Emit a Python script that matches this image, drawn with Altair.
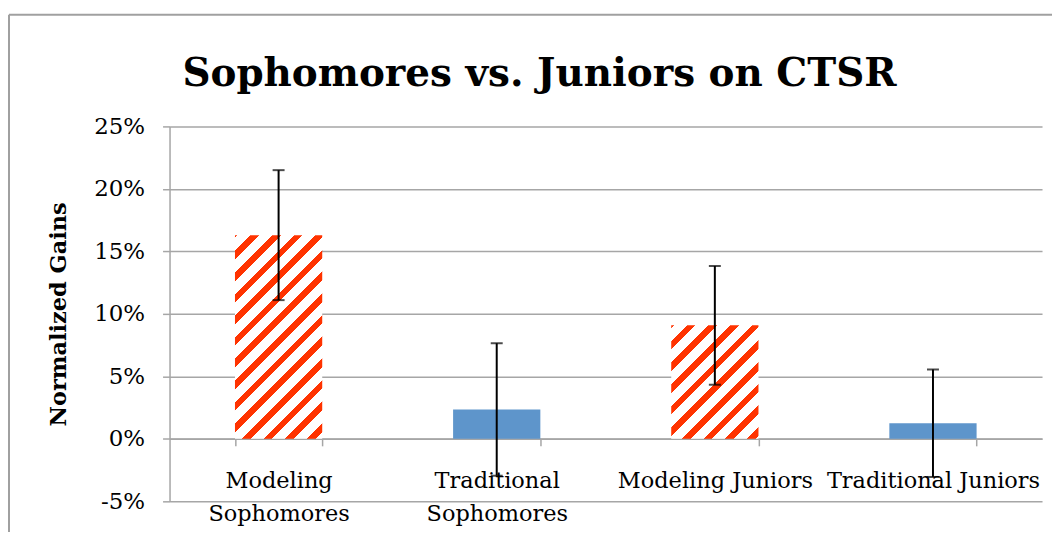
import altair as alt
import pandas as pd

# ---- data ----
categories = ["Modeling Sophomores", "Traditional Sophomores", "Modeling Juniors", "Traditional Juniors"]
gains = [16.3, 2.35, 9.08, 1.25]          # normalized gains, %
errors = [5.2, 5.3, 4.75, 4.3]            # +/- error, %
patterned = [True, False, True, False]
y_ticks = [-5, 0, 5, 10, 15, 20, 25]
chart_title = ["Sophomores vs. Juniors on CTSR"]

df = pd.DataFrame({"cat": categories, "gain": gains, "err": errors, "pattern": patterned})
df["lo"] = df["gain"] - df["err"]
df["hi"] = df["gain"] + df["err"]

# ---- layout / style ----
W, H = 875, 376
YMIN, YMAX = -5, 25
PX = H / (YMAX - YMIN)
STEP = W / 4.0
BW = STEP * 0.4
RED = "#FF3300"
BLUE = "#5E95CB"
GRID = "#A6A6A6"
FONT = "DejaVu Serif"


def stripe_gradient(h, period=21.7, frac=0.4, phase=6.0):
    w = BW
    L = w + h
    k = (w + h) / (w * w + h * h)
    stops = [alt.GradientStop(color="white", offset=0)]
    start = -phase
    while start < L:
        r0, r1 = start, start + frac * period
        a = max(r0, 0) / L
        b = min(r1, L) / L
        if b > 0 and a < 1:
            stops += [alt.GradientStop(color="white", offset=a),
                      alt.GradientStop(color=RED, offset=a),
                      alt.GradientStop(color=RED, offset=b),
                      alt.GradientStop(color="white", offset=b)]
        start += period
    stops.append(alt.GradientStop(color="white", offset=1))
    return alt.LinearGradient(gradient="linear", stops=stops,
                              x1=0, y1=0, x2=w * k, y2=h * k)


x_axis = alt.Axis(
    title=None, grid=False, offset=-(0 - YMIN) * PX,
    domainColor=GRID, domainWidth=1.5, tickColor=GRID, tickWidth=1.5, tickSize=7,
    tickBand="extent", labelAngle=0, labelFont=FONT, labelFontSize=22.5, labelColor="black",
    labelPadding=24, labelLineHeight=33, labelBaseline="top", labelLimit=0,
    labelExpr="datum.label == 'Modeling Sophomores' ? ['Modeling', 'Sophomores'] : "
              "datum.label == 'Traditional Sophomores' ? ['Traditional', 'Sophomores'] : datum.label",
)
y_axis = alt.Axis(
    values=y_ticks, labelExpr="datum.value + '%'", title="Normalized Gains",
    grid=True, gridColor=GRID, gridWidth=1.5,
    domainColor=GRID, domainWidth=1.5, tickColor=GRID, tickWidth=1.5, tickSize=7,
    labelFont=FONT, labelFontSize=23, labelColor="black", labelPadding=18,
    titleFont=FONT, titleFontSize=22.5, titleFontWeight="bold", titleColor="black",
    titleX=-111, titleY=H / 2, titleAngle=-90, titleAlign="center", titleBaseline="middle",
)
x_scale = alt.Scale(domain=categories, paddingInner=0.6, paddingOuter=0.3)
y_scale = alt.Scale(domain=[YMIN, YMAX], nice=False, zero=False)


def X():
    return alt.X("cat:N", scale=x_scale, axis=x_axis)


def Y(field):
    return alt.Y(field, scale=y_scale, axis=y_axis)


base = alt.Chart(df)

blue_bars = base.transform_filter(alt.datum.pattern == False).mark_bar(color=BLUE).encode(
    x=X(), y=Y("gain:Q"), y2=alt.datum(0),
)

layers = [blue_bars]
for c, g, p in zip(categories, gains, patterned):
    if p:
        layers.append(
            base.transform_filter(alt.datum.cat == c).mark_bar(color=stripe_gradient(g * PX)).encode(
                x=X(), y=Y("gain:Q"), y2=alt.datum(0),
            )
        )

err_rule = base.mark_rule(color="black", strokeWidth=2).encode(
    x=X(), y=Y("lo:Q"), y2="hi:Q",
)
cap_lo = base.mark_tick(color="black", size=12, thickness=2).encode(x=X(), y=Y("lo:Q"))
cap_hi = base.mark_tick(color="black", size=12, thickness=2).encode(x=X(), y=Y("hi:Q"))

title_text = alt.Chart(pd.DataFrame({"t": chart_title})).mark_text(
    font=FONT, fontSize=39, fontWeight="bold", color="black", align="center", baseline="alphabetic"
).encode(text="t:N", x=alt.value(371), y=alt.value(-41))

frame_top = alt.Chart(pd.DataFrame({"k": [0]})).mark_rule(color="#A0A0A0", strokeWidth=2).encode(
    x=alt.value(-161), x2=alt.value(W + 12), y=alt.value(-112))
frame_left = alt.Chart(pd.DataFrame({"k": [0]})).mark_rule(color="#A0A0A0", strokeWidth=2).encode(
    x=alt.value(-161), y=alt.value(-112), y2=alt.value(H + 40))

chart = alt.layer(*layers, err_rule, cap_lo, cap_hi, title_text, frame_top, frame_left).properties(
    width=W, height=H,
    padding={"left": 162, "top": 118, "right": 10, "bottom": 30},
    autosize=alt.AutoSizeParams(type="none"),
).configure_view(stroke=None)

chart.save("out.html", embed_options={"renderer": "svg", "actions": False})
